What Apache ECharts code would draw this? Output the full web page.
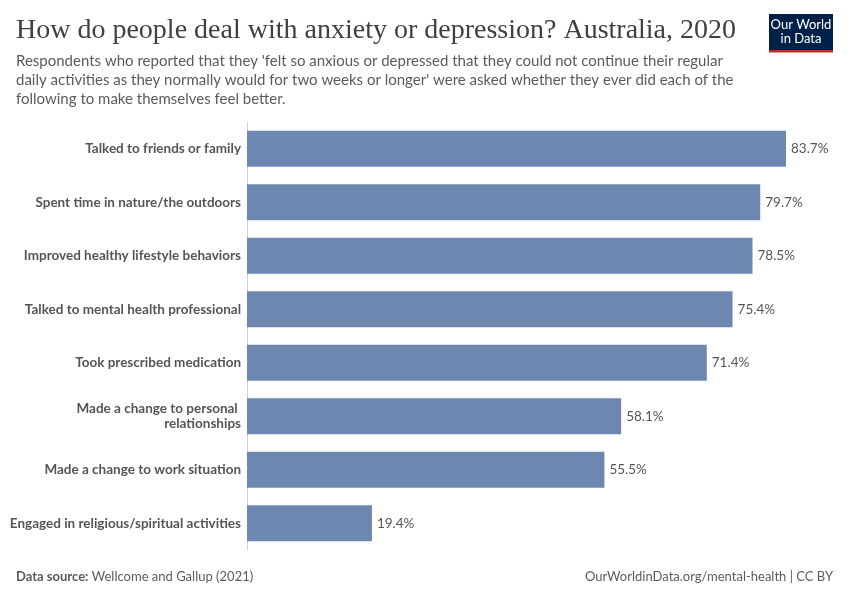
<!DOCTYPE html>
<html>
<head>
<meta charset="utf-8">
<script src="https://cdn.jsdelivr.net/npm/echarts@6/dist/echarts.min.js"></script>
<style>
  body { margin: 0; background: #fff; }
  #chart { width: 850px; height: 600px; }
</style>
</head>
<body>
<div id="chart"></div>
<script>
// survey answers, top to bottom
var categories = [
  'Talked to friends or family',
  'Spent time in nature/the outdoors',
  'Improved healthy lifestyle behaviors',
  'Talked to mental health professional',
  'Took prescribed medication',
  'Made a change to personal relationships',
  'Made a change to work situation',
  'Engaged in religious/spiritual activities'
];
var shares = [83.7, 79.7, 78.5, 75.4, 71.4, 58.1, 55.5, 19.4];

var chart = echarts.init(document.getElementById('chart'));

var option = {
  animation: false,
  textStyle: { fontFamily: 'Lato' },
  title: [
    {
      text: 'How do people deal with anxiety or depression? Australia, 2020',
      left: 11, top: 12,
      textStyle: { fontFamily: 'Liberation Serif', fontSize: 28, fontWeight: 'normal', color: '#404040' }
    },
    {
      text: "Respondents who reported that they 'felt so anxious or depressed that they could not continue their regular\ndaily activities as they normally would for two weeks or longer' were asked whether they ever did each of the\nfollowing to make themselves feel better.",
      left: 11, top: 47,
      textStyle: { fontFamily: 'Lato', fontSize: 15, fontWeight: 'normal', color: '#5b5b5b', lineHeight: 19 }
    }
  ],
  graphic: [
    { type: 'rect', shape: { x: 769, y: 14, width: 64, height: 36 }, style: { fill: '#002147' } },
    { type: 'rect', shape: { x: 769, y: 50, width: 64, height: 2.5 }, style: { fill: '#ce261e' } },
    {
      type: 'text', x: 801, y: 32,
      style: { text: 'Our World\nin Data', fill: '#fff', font: '13px Lato', align: 'center', verticalAlign: 'middle', lineHeight: 14 }
    },
    {
      type: 'text', left: 16, top: 570,
      style: {
        text: '{b|Data source:} Wellcome and Gallup (2021)',
        rich: { b: { fontWeight: 'bold', fontFamily: 'Lato', fontSize: 13, fill: '#5b5b5b' } },
        font: '13px Lato', fill: '#5b5b5b'
      }
    },
    {
      type: 'text', right: 17, top: 570,
      style: { text: 'OurWorldinData.org/mental-health | CC BY', font: '13px Lato', fill: '#5b5b5b' }
    }
  ],
  grid: { left: 247, right: 64, top: 122, bottom: 50 },
  xAxis: {
    type: 'value',
    min: 0,
    max: function (v) { return v.max; },
    show: false
  },
  yAxis: {
    type: 'category',
    data: categories,
    inverse: true,
    axisLine: { show: true, lineStyle: { color: '#d0d0d0' } },
    axisTick: { show: false },
    axisLabel: {
      margin: 6,
      width: 234,
      overflow: 'break',
      fontFamily: 'Lato',
      fontSize: 13.5,
      fontWeight: 'bold',
      color: '#555',
      lineHeight: 15,
      align: 'right'
    }
  },
  series: [{
    type: 'bar',
    data: shares,
    barWidth: 36,
    itemStyle: { color: '#6d87b0' },
    label: {
      show: true,
      position: 'right',
      distance: 5,
      fontFamily: 'Lato',
      fontSize: 13.5,
      color: '#555',
      formatter: function (p) { return p.value.toFixed(1) + '%'; }
    }
  }]
};

chart.setOption(option);
</script>
</body>
</html>
